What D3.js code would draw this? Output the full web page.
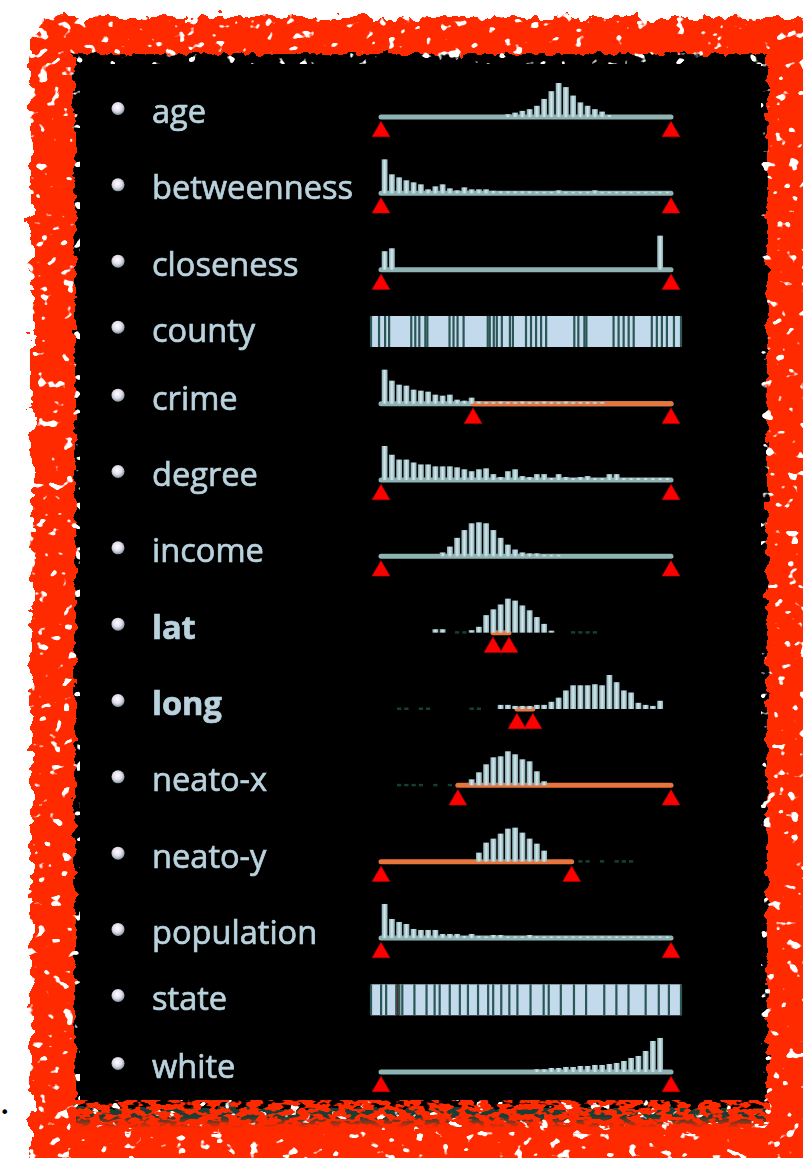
<!DOCTYPE html>
<html><head><meta charset="utf-8">
<script src="https://cdn.jsdelivr.net/npm/d3@7"></script>
<style>html,body{margin:0;padding:0;background:#fff;overflow:hidden} svg{display:block}</style>
</head><body><svg id="c" width="803" height="1158"></svg>
<script>
// ---------- DATA ----------
const rowNames = ["age","betweenness","closeness","county","crime","degree","income","lat","long","neato-x","neato-y","population","state","white"];
const rowKinds = ["hist","hist","hist","strip","hist","hist","hist","hist","hist","hist","hist","hist","strip","hist"];
const boldRows = ["lat","long"];

const ageBins = [0,0,0,0,0,0,0,0,0,0,0,0,0,0,0,0,0,1.7,3.3,5,6.7,10,16.7,24.3,32.3,28.3,20,13.3,10,6.7,4.3,1,0,0,0,0,0,0,0,0];
const betweennessBins = [33,18,15,12,10,8,3,6,8,4,2,5,3,3,3,1.5,1,1,1,1,1,0.5,0.5,0.5,2,0.5,0.5,0.5,0.5,2,0.5,0.5,0.5,0.5,0.5,0.5,0.5,0.5,0.5,0.5];
const closenessBins = [18,21,0,0,0,0,0,0,0,0,0,0,0,0,0,0,0,0,0,0,0,0,0,0,0,0,0,0,0,0,0,0,0,0,0,0,0,0,34,0];
const crimeBins = [33,22,18,17,13,12,11,8,7,8,3,2,5,1,0.5,0.5,1,0.5,0.5,1,0.5,0.5,1,0.5,0.5,1,0.5,0.5,0.5,0.5,0.5,0,0,0,0,0,0,0,0,0];
const degreeBins = [34,25,20,20,17,15,15,13,13,13,12,10,8,10,11,5,2,8,10,3,2,5,5,1,5,2,1,2,3,1,1,5,5,1,1,1,1,1,1,1];
const incomeBins = [0,0,0,0,0,0,0,0,3,9,18,26,33,34,33,26,18,11,6,3,2,2,0.5,0.5,0.5,0,0,0,0,0,0,0,0,0,0,0,0,0,0,0];
const latBins = [0,0,0,0,0,0,0,2.5,2.5,0,0,0,1.5,5,17,23,28,34,32,27,22,15,8,1,0,0,0,0,0,0,0,0,0,0,0,0,0,0,0,0];
const longBins = [0,0,0,0,0,0,0,0,0,0,0,0,0,0,0,0,3,3,2,2,2,3,3,6,10,17,22,22,22,23,22,32,25,17,15,5,3,2,7,0];
const neatoXBins = [0,0,0,0,0,0,0,0,0,0,0,0,5,12,20,27,28,33,30,25,23,13,3,0,0,0,0,0,0,0,0,0,0,0,0,0,0,0,0,0];
const neatoYBins = [0,0,0,0,0,0,0,0,0,0,0,0,0,8,18,22,27,32,33,28,22,17,10,0,0,0,0,0,0,0,0,0,0,0,0,0,0,0,0,0];
const populationBins = [33,18,15,13,8,7,7,7,3,3,3,1,3,1,0.5,2,2,0.5,0.5,0.5,2,0.5,0.5,0.5,0.5,0.5,0.5,0.5,0.5,0.5,0.5,0.5,0.5,0.5,0.5,0.5,0.5,0.5,0.5,0.5];
const whiteBins = [0,0,0,0,0,0,0,0,0,0,0,0,0,0,0,0,0,0,0,0,0,1.7,1.7,3,3,4,4,5,5,6,6,7,8,10,13,15,20,30,33,0];

const latFaint = [10,11,26,27,28,29];
const longFaint = [2,3,5,6,12,13];
const neatoXFaint = [2,3,4,5,7,9];
const neatoYFaint = [27,28,30,32,33,34];

const crimeRange = [12.7, 40];
const latRange = [15.45, 17.66];
const longRange = [18.75, 20.95];
const neatoXRange = [10.6, 40];
const neatoYRange = [0, 26.3];

const countyCounts = [8,6,4,22,4,4,6,2,22,4,4,6,24,2,4,3,5,8,3,13,5,5,5,5,28,4,6,2,27,5,5,5,5,18,5,5,5,7,7];
const stateCounts = [10,5,10,3,3,12,12,8,5,10,10,8,10,10,5,8,8,8,13,13,5,12,13,12,18,12,12,17,13,10,12];
const stateSelected = [3];

const histSpec = {
  "age": {bins: ageBins, axis: true},
  "betweenness": {bins: betweennessBins, axis: true},
  "closeness": {bins: closenessBins, axis: true},
  "crime": {bins: crimeBins, axis: true, range: crimeRange},
  "degree": {bins: degreeBins, axis: true},
  "income": {bins: incomeBins, axis: true},
  "lat": {bins: latBins, axis: false, range: latRange, faint: latFaint},
  "long": {bins: longBins, axis: false, range: longRange, faint: longFaint},
  "neato-x": {bins: neatoXBins, axis: false, range: neatoXRange, faint: neatoXFaint},
  "neato-y": {bins: neatoYBins, axis: false, range: neatoYRange, faint: neatoYFaint},
  "population": {bins: populationBins, axis: true},
  "white": {bins: whiteBins, axis: true}
};
const stripSpec = {
  "county": {counts: countyCounts, selected: []},
  "state": {counts: stateCounts, selected: stateSelected}
};

// ---------- DRAW ----------
const svg = d3.select("#c");
const defs = svg.append("defs");
defs.html(`
<filter id="roughBig" filterUnits="userSpaceOnUse" x="0" y="0" width="803" height="1158" color-interpolation-filters="sRGB">
  <feTurbulence type="fractalNoise" baseFrequency="0.07" numOctaves="3" seed="4" result="n"/>
  <feDisplacementMap in="SourceGraphic" in2="n" scale="18" xChannelSelector="R" yChannelSelector="G"/>
</filter>
<filter id="roughSmall" filterUnits="userSpaceOnUse" x="0" y="0" width="803" height="1158" color-interpolation-filters="sRGB">
  <feTurbulence type="fractalNoise" baseFrequency="0.09" numOctaves="3" seed="11" result="n"/>
  <feDisplacementMap in="SourceGraphic" in2="n" scale="12" xChannelSelector="R" yChannelSelector="G"/>
</filter>
<filter id="speck" filterUnits="userSpaceOnUse" x="0" y="0" width="803" height="1158" color-interpolation-filters="sRGB">
  <feTurbulence type="fractalNoise" baseFrequency="0.08 0.1" numOctaves="2" seed="9" result="n"/>
  <feColorMatrix in="n" type="matrix" values="0 0 0 0 1  0 0 0 0 1  0 0 0 0 1  18 0 0 0 -11.7" result="s"/>
  <feComposite in="s" in2="SourceAlpha" operator="in"/>
</filter>
<filter id="mottle" filterUnits="userSpaceOnUse" x="60" y="1090" width="720" height="50" color-interpolation-filters="sRGB">
  <feTurbulence type="fractalNoise" baseFrequency="0.1 0.2" numOctaves="2" seed="5" result="n"/>
  <feColorMatrix in="n" type="matrix" values="0 0 0 0 1  0 0 0 0 0.16  0 0 0 0 0  14 0 0 0 -6.0" result="s"/>
  <feComposite in="s" in2="SourceAlpha" operator="in"/>
</filter>
<filter id="soft" x="-5%" y="-5%" width="110%" height="110%">
  <feGaussianBlur stdDeviation="0.65"/>
</filter>
<linearGradient id="barGrad" x1="0" x2="1" y1="0" y2="0">
  <stop offset="0" stop-color="#86aab0"/>
  <stop offset="0.5" stop-color="#d3e8ec"/>
  <stop offset="1" stop-color="#86aab0"/>
</linearGradient>
<linearGradient id="bandGrad" x1="0" x2="0" y1="0" y2="1">
  <stop offset="0" stop-color="#173f36"/>
  <stop offset="0.6" stop-color="#173f36"/>
  <stop offset="1" stop-color="#ff2a00"/>
</linearGradient>
<radialGradient id="bulletGrad" cx="0.45" cy="0.4" r="0.6">
  <stop offset="0" stop-color="#ffffff"/>
  <stop offset="0.55" stop-color="#e4dced"/>
  <stop offset="1" stop-color="#7e989c"/>
</radialGradient>
`);

// frame
svg.append("rect").attr("x",31).attr("y",17).attr("width",820).attr("height",1180).attr("rx",30)
  .attr("fill","#ff2a00").attr("filter","url(#roughBig)");
svg.append("rect").attr("x",76).attr("y",1100).attr("width",690).attr("height",28).attr("fill","url(#bandGrad)");
svg.append("rect").attr("x",75).attr("y",54).attr("width",692).attr("height",1054)
  .attr("fill","#000").attr("filter","url(#roughSmall)");
svg.append("path")
  .attr("d","M0,0H803V1158H0Z M80,64V1100H761V64Z")
  .attr("fill-rule","evenodd").attr("fill","#000").attr("filter","url(#speck)");
svg.append("rect").attr("x",70).attr("y",1100).attr("width",700).attr("height",34)
  .attr("fill","#000").attr("filter","url(#mottle)");

// list bullet at bottom-left
svg.append("text").attr("x",0).attr("y",1118).attr("font-family","DejaVu Sans")
  .attr("font-size",16).attr("fill","#000").text("\u2022");

const g = svg.append("g").attr("filter","url(#soft)");

// font size fitted
const fontFam = "'Open Sans', 'Noto Sans', sans-serif";
const probe = g.append("text").attr("font-family",fontFam).attr("font-size",100).text("betweenness");
const probeLen = probe.node().getComputedTextLength();
probe.remove();
const fontSize = 100 * 201 / probeLen;

const xHist = d3.scaleLinear().domain([0, 40]).range([381, 671]);
const xStrip = d3.scaleLinear().range([371, 681]);
const binW = xHist(1) - xHist(0);
const tri = d3.symbol().type(d3.symbolTriangle).size(138)();

const HIST_H = 76.33, STRIP_H = 57.67;
let rowTop = 75;
rowNames.forEach((name, i) => {
  const kind = rowKinds[i];
  const row = g.append("g");
  const textBase = kind === "hist" ? rowTop + 48 : rowTop + 37.7;
  row.append("circle").attr("cx",118).attr("cy",textBase - 14.5).attr("r",6.5).attr("fill","url(#bulletGrad)");
  row.append("text").attr("x",152).attr("y",textBase)
    .attr("font-family",fontFam).attr("font-size",fontSize)
    .attr("font-weight", boldRows.includes(name) ? 700 : 400)
    .attr("fill","#b9d2dd").attr("stroke","#b9d2dd").attr("stroke-width",0.7)
    .text(name);

  if (kind === "hist") {
    const spec = histSpec[name];
    const base = rowTop + 42;
    const y = d3.scaleLinear().domain([0, d3.max(spec.bins)]).range([0, 33]);
    const range = spec.range || [0, 40];
    if (spec.axis) {
      row.append("line").attr("x1",xHist(0)).attr("x2",xHist(40)).attr("y1",base).attr("y2",base)
        .attr("stroke","#8fb3b3").attr("stroke-width",5).attr("stroke-linecap","round");
    }
    if (spec.range) {
      row.append("line").attr("x1",xHist(range[0])).attr("x2",xHist(range[1])).attr("y1",base).attr("y2",base)
        .attr("stroke","#e8743e").attr("stroke-width",5).attr("stroke-linecap","round");
    }
    (spec.faint || []).forEach(b => {
      row.append("rect").attr("x",xHist(b)+1.5).attr("width",binW-3).attr("y",base-1.5).attr("height",2.5)
        .attr("fill","#17402f");
    });
    row.selectAll("rect.bar").data(spec.bins.map((v,b)=>({v,b})).filter(d=>d.v>0)).join("rect")
      .attr("class","bar")
      .attr("x",d=>xHist(d.b)+0.7).attr("width",binW-1.4)
      .attr("y",d=>base-1-y(d.v)).attr("height",d=>y(d.v)+1)
      .attr("fill","url(#barGrad)");
    [range[0], range[1]].forEach(v => {
      row.append("path").attr("d",tri)
        .attr("transform",`translate(${xHist(v)},${base+14.6})`)
        .attr("fill","#ff0606").attr("stroke","#b80000").attr("stroke-width",0.6);
    });
    rowTop += HIST_H;
  } else {
    const spec = stripSpec[name];
    xStrip.domain([0, d3.sum(spec.counts)]);
    const y0 = rowTop + 12, h = 31;
    let acc = 0;
    const edges = [0];
    spec.counts.forEach((c, j) => {
      row.append("rect").attr("x",xStrip(acc)).attr("width",xStrip(acc+c)-xStrip(acc))
        .attr("y",y0).attr("height",h)
        .attr("fill", spec.selected.includes(j) ? "#8e0d0d" : "#c3d9ec");
      acc += c; edges.push(acc);
    });
    edges.forEach(e => {
      row.append("line").attr("x1",xStrip(e)).attr("x2",xStrip(e)).attr("y1",y0).attr("y2",y0+h)
        .attr("stroke","#2b5654").attr("stroke-width",2.2);
    });
    rowTop += STRIP_H;
  }
});
</script></body></html>
